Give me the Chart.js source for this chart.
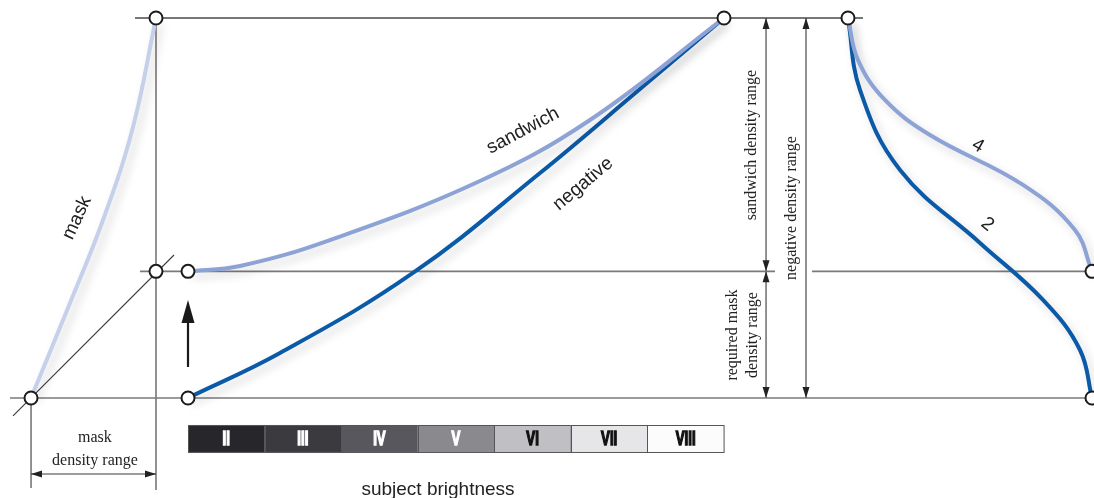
<!DOCTYPE html>
<html>
<head>
<meta charset="utf-8">
<script src="https://cdn.jsdelivr.net/npm/chart.js@4.4.1/dist/chart.umd.min.js"></script>
<style>
  html, body { margin: 0; padding: 0; background: #fff; }
</style>
</head>
<body>
<canvas id="diagram" width="1094" height="498"></canvas>
<script>
// x = subject brightness in zones (0 = left edge of zone II), y = density
const zones = ['II', 'III', 'IV', 'V', 'VI', 'VII', 'VIII'];
const zoneGrays = ['#27262b', '#3b3a3f', '#58575d', '#8a898e', '#c0c0c4', '#e6e6e9', '#fcfcfc'];
const zoneInk = ['#fff', '#fff', '#fff', '#fff', '#111', '#111', '#111'];

const maskCurve = [[-2.05, 0], [-1.541, 0.75], [-1.11, 1.405], [-0.718, 2.139], [-0.418, 3]];
const sandwichCurve = [[0, 1], [0.679, 1.042], [1.854, 1.247], [3.813, 1.713], [5.25, 2.195], [7, 3]];
const negativeCurve = [[0, 0], [1.201, 0.355], [2.938, 0.987], [4.597, 1.776], [5.903, 2.439], [7, 3]];
const curve4 = [[8.619, 3], [8.75, 2.668], [9.102, 2.353], [9.69, 2.076], [10.905, 1.682],
  [11.584, 1.326], [11.806, 1]];
const curve2 = [[8.619, 3], [8.776, 2.432], [9.299, 1.8], [10.343, 1.224], [11.166, 0.774],
  [11.649, 0.379], [11.806, 0]];

const nodes = [[-0.418, 3], [7, 3], [8.619, 3], [-0.418, 1], [0, 1], [-2.05, 0], [0, 0], [11.806, 1], [11.806, 0]];

// guide lines [x0, y0, x1, y1]
const guides = [
  [-0.692, 3, 8.815, 3],
  [-0.627, 1, 7.666, 1], [8.149, 1, 11.806, 1],
  [-2.325, 0, 11.806, 0],
  [-0.418, 3, -0.418, -0.726],
  [-2.05, 0, -2.05, -0.711],
  [-2.285, -0.142, -0.183, 1.129],
  [-2.05, -0.6, -0.418, -0.6],
  [7.549, 3, 7.549, 0],
  [8.071, 3, 8.071, 0]
];

const toPts = arr => arr.map(p => ({ x: p[0], y: p[1] }));

const curveSet = (data, color) => ({
  data: toPts(data), showLine: true, borderColor: color, borderWidth: 4,
  pointRadius: 0, tension: 0.4, shadow: true, order: 1
});

const datasets = [
  {
    data: toPts(nodes), pointRadius: 6.5, pointBackgroundColor: '#fff',
    pointBorderColor: '#1c1c1c', pointBorderWidth: 2, order: 0
  },
  curveSet(maskCurve, '#c5d0eb'),
  curveSet(sandwichCurve, '#8da3d6'),
  curveSet(negativeCurve, '#0b5aa8'),
  curveSet(curve4, '#8da3d6'),
  curveSet(curve2, '#0b5aa8')
];
guides.forEach((g, i) => {
  datasets.push({
    data: [{ x: g[0], y: g[1] }, { x: g[2], y: g[3] }], showLine: true,
    borderColor: i < 4 ? (i === 0 ? '#4a4a4a' : '#7a7a7a') : '#3a3a3a',
    borderWidth: i < 4 ? 1.6 : 1.1, pointRadius: 0, order: 2
  });
});

const sans = '19px "Liberation Sans", Arial, sans-serif';
const serif = '16px "Liberation Serif", serif';
const labels = [
  { text: 'mask', x: -1.449, y: 1.421, rot: -65, font: sans },
  { text: 'sandwich', x: 4.375, y: 2.11, rot: -28, font: sans },
  { text: 'negative', x: 5.16, y: 1.69, rot: -40, font: sans },
  { text: '4', x: 10.317, y: 1.99, rot: 30, font: sans },
  { text: '2', x: 10.44, y: 1.37, rot: 38, font: sans },
  { text: 'subject brightness', x: 3.265, y: -0.726, rot: 0, font: sans },
  { text: 'mask', x: -1.215, y: -0.316, rot: 0, font: serif },
  { text: 'density range', x: -1.215, y: -0.497, rot: 0, font: serif },
  { text: 'sandwich density range', x: 7.366, y: 1.997, rot: -90, font: serif },
  { text: 'negative density range', x: 7.888, y: 1.5, rot: -90, font: serif },
  { text: 'required mask', x: 7.118, y: 0.497, rot: -90, font: serif },
  { text: 'density range', x: 7.379, y: 0.497, rot: -90, font: serif }
];

// arrowheads: [x, y, direction]
const arrowHeads = [
  [-2.05, -0.6, 'left'], [-0.418, -0.6, 'right'],
  [7.549, 3, 'up'], [7.549, 1, 'down'], [7.549, 1, 'up'], [7.549, 0, 'down'],
  [8.071, 3, 'up'], [8.071, 0, 'down']
];

const shadowPlugin = {
  id: 'shadow',
  beforeDatasetDraw(chart, args) {
    if (chart.data.datasets[args.index].shadow) {
      const ctx = chart.ctx;
      ctx.save();
      ctx.shadowColor = 'rgba(0,0,0,0.17)';
      ctx.shadowBlur = 10;
      ctx.shadowOffsetX = 4;
      ctx.shadowOffsetY = 5;
    }
  },
  afterDatasetDraw(chart, args) {
    if (chart.data.datasets[args.index].shadow) chart.ctx.restore();
  }
};

const annotatePlugin = {
  id: 'annotate',
  afterDatasetsDraw(chart) {
    const ctx = chart.ctx;
    const sx = chart.scales.x, sy = chart.scales.y;
    const px = v => sx.getPixelForValue(v);
    const py = v => sy.getPixelForValue(v);

    // dimension arrowheads
    ctx.save();
    ctx.fillStyle = '#222';
    arrowHeads.forEach(([x, y, dir]) => {
      const X = px(x), Y = py(y), L = 11, W = 3.5;
      ctx.beginPath();
      if (dir === 'up') { ctx.moveTo(X, Y); ctx.lineTo(X - W, Y + L); ctx.lineTo(X + W, Y + L); }
      if (dir === 'down') { ctx.moveTo(X, Y); ctx.lineTo(X - W, Y - L); ctx.lineTo(X + W, Y - L); }
      if (dir === 'left') { ctx.moveTo(X, Y); ctx.lineTo(X + L, Y - W); ctx.lineTo(X + L, Y + W); }
      if (dir === 'right') { ctx.moveTo(X, Y); ctx.lineTo(X - L, Y - W); ctx.lineTo(X - L, Y + W); }
      ctx.closePath();
      ctx.fill();
    });

    // black arrow under the sandwich start point
    const ax = px(0), aBot = py(0.245), aTip = py(0.774);
    ctx.strokeStyle = '#1a1a1a';
    ctx.lineWidth = 2.2;
    ctx.beginPath(); ctx.moveTo(ax, aBot); ctx.lineTo(ax, aTip + 18); ctx.stroke();
    ctx.fillStyle = '#1a1a1a';
    ctx.beginPath(); ctx.moveTo(ax, aTip); ctx.lineTo(ax - 6.5, aTip + 23); ctx.lineTo(ax + 6.5, aTip + 23);
    ctx.closePath(); ctx.fill();

    // zone scale
    const top = py(-0.213), bot = py(-0.426);
    zones.forEach((z, i) => {
      const x0 = px(i), x1 = px(i + 1);
      ctx.fillStyle = zoneGrays[i];
      ctx.fillRect(x0, top, x1 - x0, bot - top);
      ctx.strokeStyle = '#555';
      ctx.lineWidth = 1;
      ctx.strokeRect(Math.round(x0) + 0.5, Math.round(top) + 0.5, x1 - x0, bot - top);
      ctx.save();
      ctx.translate((x0 + x1) / 2, (top + bot) / 2 + 1);
      ctx.scale(0.66, 1);
      ctx.fillStyle = zoneInk[i];
      ctx.strokeStyle = zoneInk[i];
      ctx.lineWidth = 1.6;
      ctx.font = 'bold 20px "Liberation Sans", Arial, sans-serif';
      ctx.textAlign = 'center';
      ctx.textBaseline = 'middle';
      ctx.fillText(z, 0, 0);
      ctx.strokeText(z, 0, 0);
      ctx.restore();
    });

    // labels
    labels.forEach(l => {
      ctx.save();
      ctx.translate(px(l.x), py(l.y));
      ctx.rotate(l.rot * Math.PI / 180);
      ctx.font = l.font;
      ctx.fillStyle = '#222';
      ctx.textAlign = 'center';
      ctx.textBaseline = 'middle';
      ctx.fillText(l.text, 0, 0);
      ctx.restore();
    });
    ctx.restore();
  }
};

new Chart(document.getElementById('diagram').getContext('2d'), {
  type: 'scatter',
  data: { datasets },
  options: {
    responsive: false,
    animation: false,
    layout: { padding: 0, autoPadding: false },
    plugins: { legend: { display: false }, tooltip: { enabled: false } },
    scales: {
      x: { type: 'linear', display: false, min: -2.4552, max: 11.832 },
      y: { type: 'linear', display: false, min: -0.7895, max: 3.1421 }
    }
  },
  plugins: [shadowPlugin, annotatePlugin]
});
</script>
</body>
</html>
